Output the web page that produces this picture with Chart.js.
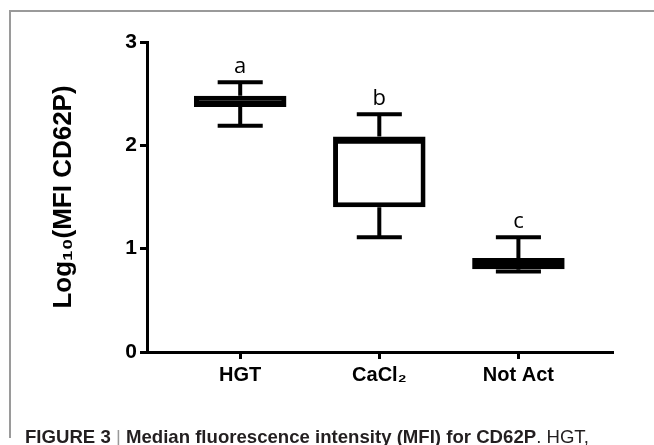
<!DOCTYPE html>
<html><head><meta charset="utf-8">
<script src="https://cdn.jsdelivr.net/npm/chart.js@4"></script>
<style>
html,body{margin:0;padding:0;background:#fff;width:654px;height:445px;overflow:hidden;}
#wrap{position:relative;width:654px;height:445px;}
#frame{position:absolute;left:9px;top:10px;width:645px;height:428px;border-top:2px solid #9a9a9a;border-left:2px solid #9a9a9a;box-sizing:border-box;}
canvas{position:absolute;left:0;top:0;}
#cap{position:absolute;left:25px;top:426px;font-family:"Liberation Sans",Arial,sans-serif;font-size:18.6px;white-space:nowrap;color:#231f20;}
#cap .bar{color:#999;font-weight:normal;}
</style></head>
<body><div id="wrap"><div id="frame"></div><canvas id="c" width="654" height="445"></canvas>
<div id="cap"><b>FIGURE 3</b> <span class="bar">|</span> <b>Median fluorescence intensity (MFI) for CD62P</b>. HGT,</div></div>
<script>
const categories = ['HGT', 'CaCl\u2082', 'Not Act'];
const whiskerMin = [2.19, 1.11, 0.78];
const q1 = [2.37, 1.40, 0.80];
const median = [2.42, 2.03, 0.85];
const q3 = [2.48, 2.085, 0.91];
const whiskerMax = [2.61, 2.30, 1.11];
const sigLetters = ['a', 'b', 'c'];
const yTicks = [0, 1, 2, 3];

const boxData = categories.map((c, i) => ({x: i, y: [q1[i], q3[i]]}));
const whiskerData = [];
const capData = [];
const medianData = [];
categories.forEach((c, i) => {
  whiskerData.push({x: i, y: q3[i]}, {x: i, y: whiskerMax[i]}, {x: i, y: null});
  whiskerData.push({x: i, y: whiskerMin[i]}, {x: i, y: q1[i]}, {x: i, y: null});
  capData.push({x: i - 0.162, y: whiskerMax[i]}, {x: i + 0.162, y: whiskerMax[i]}, {x: i, y: null});
  capData.push({x: i - 0.162, y: whiskerMin[i]}, {x: i + 0.162, y: whiskerMin[i]}, {x: i, y: null});
  medianData.push({x: i - 0.31, y: median[i]}, {x: i + 0.31, y: median[i]}, {x: i, y: null});
});

const letterPlugin = {
  id: 'letters',
  afterDatasetsDraw(chart) {
    const {ctx, scales: {x, y}} = chart;
    ctx.save();
    ctx.fillStyle = '#000';
    ctx.font = '22px "Open Sans"';
    ctx.textAlign = 'center';
    ctx.textBaseline = 'alphabetic';
    sigLetters.forEach((l, i) => {
      ctx.fillText(l, x.getPixelForValue(i), y.getPixelForValue(whiskerMax[i]) - 9);
    });
    ctx.restore();
  }
};

const lineCommon = {type: 'line', borderColor: '#000', pointRadius: 0, spanGaps: false, fill: false, order: 1, borderCapStyle: 'butt'};

new Chart(document.getElementById('c'), {
  type: 'bar',
  data: {
    datasets: [
      {data: boxData, backgroundColor: '#fff', borderColor: '#000', borderWidth: 5, borderSkipped: false,
       barPercentage: 0.665, categoryPercentage: 1, order: 2},
      Object.assign({data: whiskerData, borderWidth: 4}, lineCommon),
      Object.assign({data: capData, borderWidth: 4}, lineCommon),
      Object.assign({data: medianData, borderWidth: 3}, lineCommon)
    ]
  },
  options: {
    responsive: false,
    animation: false,
    events: [],
    layout: {padding: {left: 0, top: 42, right: 41, bottom: 0}},
    plugins: {legend: {display: false}, tooltip: {enabled: false}},
    scales: {
      x: {
        type: 'linear', min: -0.67, max: 2.68, offset: false,
        afterFit(s) { s.height = 93; },
        afterBuildTicks(s) { s.ticks = categories.map((c, i) => ({value: i})); },
        border: {display: true, color: '#000', width: 3},
        grid: {display: true, offset: false, drawOnChartArea: false, drawTicks: true, tickLength: 7, tickWidth: 3, tickColor: '#000'},
        ticks: {color: '#000', padding: 4, maxRotation: 0, autoSkip: false,
          font: {family: '"Liberation Sans", Arial', size: 20, weight: 'bold'},
          callback: (v) => categories[v]}
      },
      y: {
        min: 0, max: 3,
        afterFit(s) { s.width = 147; },
        afterBuildTicks(s) { s.ticks = yTicks.map(v => ({value: v})); },
        border: {display: true, color: '#000', width: 3},
        grid: {display: true, drawOnChartArea: false, drawTicks: true, tickLength: 7, tickWidth: 3, tickColor: '#000'},
        ticks: {color: '#000', padding: 3,
          font: {family: '"Liberation Sans", Arial', size: 21, weight: 'bold'}},
        title: {display: true, text: 'Log\u2081\u2080(MFI CD62P)', color: '#000',
          padding: {top: 48, bottom: 0},
          font: {family: '"Liberation Sans", Arial', size: 26, weight: 'bold'}}
      }
    }
  },
  plugins: [letterPlugin]
});
</script>
</body></html>
